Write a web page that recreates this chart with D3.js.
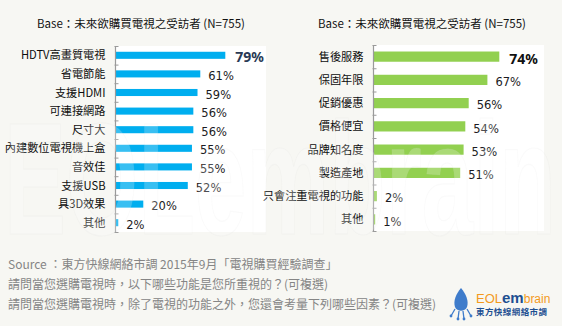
<!DOCTYPE html>
<html><head><meta charset="utf-8">
<script src="https://cdn.jsdelivr.net/npm/d3@7"></script>
<style>
html,body{margin:0;padding:0;background:#f7f7f3;}
svg{display:block;}
</style></head>
<body>
<script>
const baseTitle = "Base：未來欲購買電視之受訪者 (N=755)";
const leftCategories = ["HDTV高畫質電視","省電節能","支援HDMI","可連接網路","尺寸大","內建數位電視機上盒","音效佳","支援USB","具3D效果","其他"];
const leftValues = [79,61,59,56,56,55,55,52,20,2];
const rightCategories = ["售後服務","保固年限","促銷優惠","價格便宜","品牌知名度","製造產地","只會注重電視的功能","其他"];
const rightValues = [74,67,56,54,53,51,2,1];
const footLines = [
  "Source ：東方快線網絡市調 2015年9月「電視購買經驗調查」",
  "請問當您選購電視時，以下哪些功能是您所重視的？(可複選)",
  "請問當您選購電視時，除了電視的功能之外，您還會考量下列哪些因素？(可複選)"
];

const W = 562, H = 326;
const svg = d3.select("body").append("svg").attr("width", W).attr("height", H);
svg.append("rect").attr("width", W).attr("height", H).attr("fill", "#f7f7f3");

const FONT = "'DejaVu Sans','Noto Sans CJK TC',sans-serif";
const CJK = "'Noto Sans CJK TC','DejaVu Sans',sans-serif";

function panel(cfg) {
  const g = svg.append("g");
  g.append("text").attr("x", cfg.titleX).attr("y", 28)
    .attr("font-family", CJK).attr("font-size", 11.5).attr("fill", "#111")
    .text(baseTitle);
  g.append("rect").attr("x", cfg.x0).attr("y", cfg.y0)
    .attr("width", cfg.bgRight - cfg.x0).attr("height", cfg.y1 - cfg.y0)
    .attr("fill", "#ffffff");
  const x = d3.scaleLinear().domain([0, 100]).range([cfg.x0, cfg.x0 + cfg.pxPer100]);
  const y = d3.scaleBand().domain(cfg.cats).range([cfg.y0, cfg.y1]).paddingInner(cfg.pad).paddingOuter(cfg.pad / 2);
  const step = y.step();
  g.selectAll("rect.bar").data(cfg.cats).join("rect")
    .attr("class", "bar")
    .attr("x", x(0))
    .attr("y", d => y(d))
    .attr("width", (d, i) => x(cfg.vals[i]) - x(0))
    .attr("height", y.bandwidth())
    .attr("fill", cfg.color);
  g.append("line").attr("x1", x(0)).attr("x2", x(0)).attr("y1", cfg.y0).attr("y2", cfg.y1)
    .attr("stroke", "#9a9a9a").attr("stroke-width", 1.2);
  const bounds = d3.range(cfg.cats.length + 1).map(i => cfg.y0 + i * step);
  g.selectAll("line.tk").data(bounds).join("line")
    .attr("x1", x(0) - 1).attr("x2", x(0) + 3)
    .attr("y1", d => d + 0.5).attr("y2", d => d + 0.5)
    .attr("stroke", "#9a9a9a").attr("stroke-width", 1);
  g.selectAll("text.cat").data(cfg.cats).join("text")
    .attr("class", "cat")
    .attr("x", x(0) - 10)
    .attr("y", d => y(d) + y.bandwidth() / 2)
    .attr("dy", "0.36em")
    .attr("text-anchor", "end")
    .attr("font-family", CJK).attr("font-size", 11.2).attr("fill", "#0d0d0d")
    .text(d => d);
  g.selectAll("text.val").data(cfg.cats).join("text")
    .attr("class", "val")
    .attr("x", (d, i) => x(cfg.vals[i]) + (i === 0 ? 10 : 8))
    .attr("y", d => y(d) + y.bandwidth() / 2 + 2)
    .attr("dy", "0.36em")
    .attr("font-family", (d, i) => i === 0 ? "'Noto Sans','DejaVu Sans',sans-serif" : FONT)
    .attr("font-weight", (d, i) => i === 0 ? "bold" : "normal")
    .attr("font-size", (d, i) => i === 0 ? 14 : 11.5)
    .attr("fill", (d, i) => i === 0 ? cfg.boldColor : "#1b1b22")
    .text((d, i) => cfg.vals[i] + "%");
}

panel({cats: leftCategories, vals: leftValues, x0: 115.5, y0: 46, y1: 232, bgRight: 266,
  pxPer100: 139, pad: 0.62, color: "#00aeef", titleX: 37, boldColor: "#2a3a55"});
panel({cats: rightCategories, vals: rightValues, x0: 373.5, y0: 45, y1: 231, bgRight: 544,
  pxPer100: 170, pad: 0.56, color: "#92d050", titleX: 318, boldColor: "#111"});

// faint watermark
svg.append("text").attr("x", 4).attr("y", 234)
  .attr("font-family", "'Liberation Sans',sans-serif").attr("font-weight", "bold")
  .attr("font-size", 160).attr("textLength", 552).attr("lengthAdjust", "spacingAndGlyphs")
  .attr("fill", "#ffffff").attr("fill-opacity", 0.22)
  .attr("stroke", "#cfcfca").attr("stroke-opacity", 0.1).attr("stroke-width", 1.2)
  .text("EOLembrain");

svg.selectAll("text.foot").data(footLines).join("text")
  .attr("class", "foot")
  .attr("x", 8).attr("y", (d, i) => 269 + i * 20)
  .attr("font-family", CJK).attr("font-size", 12).attr("fill", "#858585")
  .text(d => d);

const logo = svg.append("g");
logo.append("path")
  .attr("d", "M461,288 C456,294 453,301 455,307 C457,312 465,312 467,307 C469,301 466,294 461,288 Z")
  .attr("fill", "#3f7ccb");
logo.append("path").attr("d", "M455,309 L451,316 M459,311 L458,319 M463,311 L464,319 M467,309 L471,316")
  .attr("stroke", "#3f7ccb").attr("stroke-width", 1.3).attr("fill", "none");
logo.selectAll("circle.ft").data([[451,316],[458,319],[464,319],[471,316]]).join("circle")
  .attr("class","ft").attr("cx", d=>d[0]).attr("cy", d=>d[1]).attr("r", 1.4).attr("fill", "#3f7ccb");
const lt = logo.append("text").attr("x", 476).attr("y", 303)
  .attr("font-family", "'Liberation Sans',sans-serif").attr("font-size", 13);
lt.append("tspan").attr("fill", "#f39a1e").text("EOL");
lt.append("tspan").attr("fill", "#1d4f91").attr("font-weight", "bold").attr("font-size", 15).text("em");
lt.append("tspan").attr("fill", "#f39a1e").attr("font-size", 12).text("brain");
logo.append("text").attr("x", 476).attr("y", 315)
  .attr("font-family", CJK).attr("font-size", 8.5).attr("font-weight", "bold")
  .attr("fill", "#1d4f91").attr("textLength", 71).attr("lengthAdjust", "spacing")
  .text("東方快線網絡市調");
</script>
</body></html>
